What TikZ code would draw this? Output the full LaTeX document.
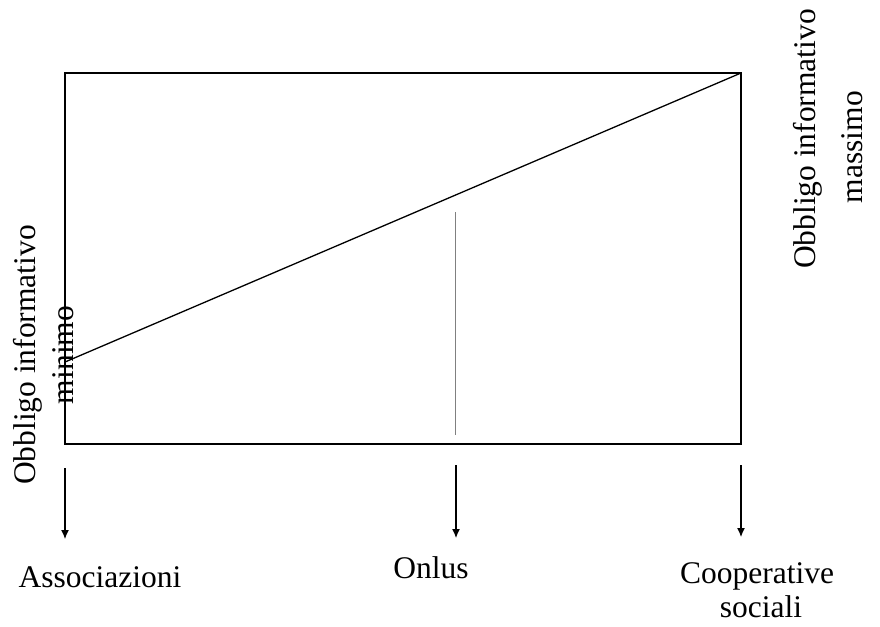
\documentclass[tikz,border=0pt]{standalone}
\usepackage{fontspec}
\setmainfont{Liberation Serif}
\usetikzlibrary{arrows.meta}
\begin{document}
\begin{tikzpicture}[x=1pt,y=-1pt,
  frame/.style={line width=1.6pt},
  slope/.style={line width=1.3pt},
  guide/.style={line width=0.9pt, gray},
  down/.style={line width=1.2pt, -{Latex[length=9pt,width=8pt]}},
  lbl/.style={font=\fontsize{31.5}{36}\selectfont, inner sep=0pt},
  vlbl/.style={lbl, rotate=90, anchor=base}]
\useasboundingbox (0,0) rectangle (880,626);
% frame corners
\coordinate (tl) at (65,73);
\coordinate (tr) at (741,73);
\coordinate (br) at (741,444);
\coordinate (bl) at (65,444);
\draw[frame] (tl) -- (tr) -- (br) -- (bl) -- cycle;
% rising line
\coordinate (lo) at (65,362);
\draw[slope] (lo) -- (tr);
% vertical guide
\coordinate (g1) at (455,212);
\coordinate (g2) at (455,435);
\draw[guide] (g1) -- (g2);
% arrows
\coordinate (a1) at (65,468);  \coordinate (a2) at (65,539);
\coordinate (o1) at (456,465); \coordinate (o2) at (456,538);
\coordinate (c1) at (741,465); \coordinate (c2) at (741,537);
\draw[down] (a1) -- (a2);
\draw[down] (o1) -- (o2);
\draw[down] (c1) -- (c2);
% labels
\node[lbl, anchor=base] (assoc) at (100,587) {Associazioni};
\node[lbl, anchor=base] (onlus) at (431,578) {Onlus};
\node[lbl, anchor=base] (coop) at (757,583) {Cooperative};
\node[lbl, anchor=base] (soc) at (761,617) {sociali};
\node[vlbl] (min1) at (35,355) {Obbligo informativo};
\node[vlbl] (min2) at (73,355) {minimo};
\node[vlbl] (max1) at (815,139) {Obbligo informativo};
\node[vlbl] (max2) at (862,147) {massimo};
\end{tikzpicture}
\end{document}
